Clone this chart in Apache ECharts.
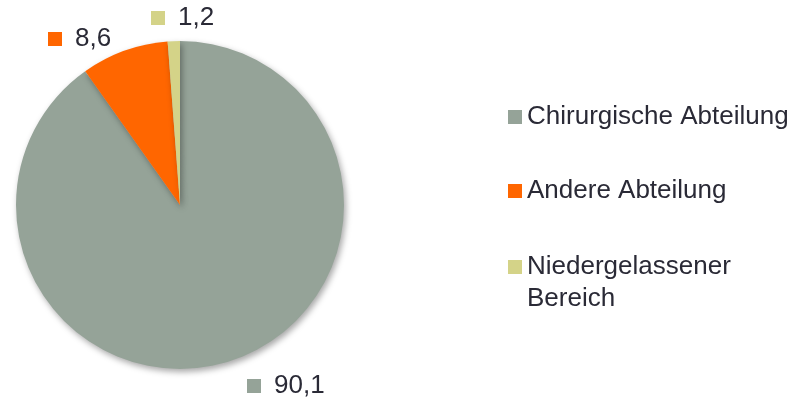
<!DOCTYPE html>
<html>
<head>
<meta charset="utf-8">
<script src="https://cdn.jsdelivr.net/npm/echarts@6/dist/echarts.min.js"></script>
<style>
html,body{margin:0;padding:0;background:#fff;}
#chart{width:798px;height:400px;}
</style>
</head>
<body>
<div id="chart"></div>
<script>
const categories = ['Chirurgische Abteilung', 'Andere Abteilung', 'Niedergelassener\nBereich'];
const values = [90.1, 8.6, 1.2];

const colors = ['#95A398', '#FF6600', '#D4D388'];
const textColor = '#2a2a36';
const font = 'Liberation Sans, Arial, sans-serif';
const labelPos = [[247, 386], [48, 39], [151, 18]];

const rich = {
  t: { fontSize: 26, fontFamily: font, color: textColor, padding: [0, 0, 0, 13] }
};
colors.forEach((c, i) => {
  rich['s' + i] = { width: 14, height: 14, backgroundColor: c };
});

const chart = echarts.init(document.getElementById('chart'), null, { renderer: 'canvas' });

const legendTops = [101, 175, 219];
const legends = categories.map((name, i) => ({
  data: [name],
  orient: 'vertical',
  left: 508,
  top: legendTops[i],
  padding: 0,
  itemWidth: 14,
  itemHeight: 14,
  icon: 'rect',
  formatter: n => (n.indexOf('\n') >= 0 ? '\n' + n : n),
  textStyle: { fontSize: 26, fontFamily: font, color: textColor, lineHeight: 32 }
}));

chart.setOption({
  animation: false,
  color: colors,
  legend: legends,
  series: [{
    type: 'pie',
    center: [180, 205],
    radius: 164,
    startAngle: 90,
    clockwise: true,
    avoidLabelOverlap: false,
    itemStyle: {
      shadowBlur: 6,
      shadowOffsetX: 2,
      shadowOffsetY: 3,
      shadowColor: 'rgba(0,0,0,0.35)'
    },
    emphasis: { disabled: true },
    label: {
      show: true,
      position: 'outside',
      formatter: p => '{s' + p.dataIndex + '|}{t|' + String(p.value).replace('.', ',') + '}',
      rich: rich
    },
    labelLine: { show: false },
    labelLayout: p => ({
      x: labelPos[p.dataIndex][0],
      y: labelPos[p.dataIndex][1],
      align: 'left',
      verticalAlign: 'middle'
    }),
    data: categories.map((n, i) => ({ name: n, value: values[i] }))
  }]
});
</script>
</body>
</html>
